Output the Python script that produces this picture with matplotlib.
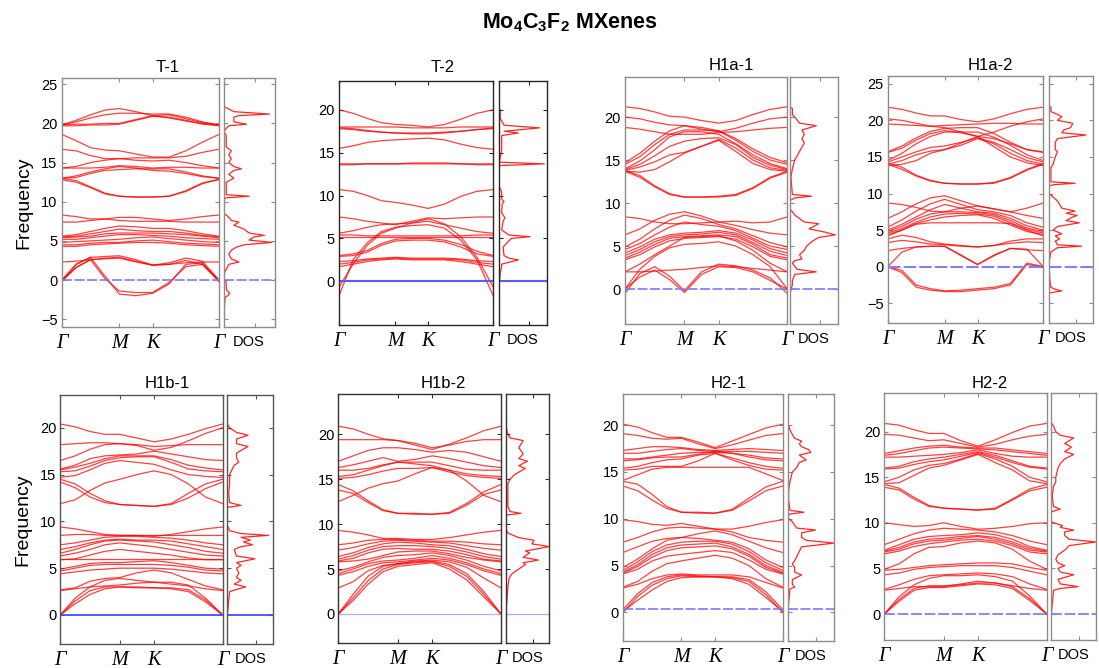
import matplotlib
matplotlib.use('Agg')
import matplotlib.pyplot as plt
from matplotlib.transforms import offset_copy

plt.rcParams['font.family'] = ['Liberation Sans', 'DejaVu Sans']
plt.rcParams['mathtext.fontset'] = 'custom'
plt.rcParams['mathtext.rm'] = 'Liberation Sans'
plt.rcParams['mathtext.bf'] = 'Liberation Sans:bold'

# ---------------- data ----------------
KPATH = [0.0, 0.1443, 0.2887, 0.4330, 0.5774, 0.7440, 0.9107, 1.0774, 1.2440, 1.4107, 1.5774]
HSYM_POS = [0.0, 0.5774, 0.9107, 1.5774]
HSYM_LABELS = ['Γ', 'M', 'K', 'Γ']
PANEL_TITLES = ['T-1', 'T-2', 'H1a-1', 'H1a-2', 'H1b-1', 'H1b-2', 'H2-1', 'H2-2']

T1_BANDS = [
    [19.8, 20.4, 21.1, 21.7, 21.9, 21.5, 21.0, 20.7, 20.3, 20.0, 19.8],
    [19.8, 20.2, 20.7, 21.1, 21.3, 21.3, 21.2, 21.2, 20.8, 20.2, 19.8],
    [19.8, 19.9, 19.9, 20.0, 20.0, 20.5, 21.0, 21.1, 20.6, 20.1, 19.8],
    [19.7, 19.7, 19.8, 19.8, 19.9, 20.4, 20.9, 20.8, 20.4, 19.9, 19.7],
    [18.6, 17.8, 16.9, 16.6, 16.5, 16.1, 15.7, 15.7, 16.5, 17.6, 18.6],
    [16.7, 16.5, 15.9, 15.5, 15.5, 15.6, 15.6, 15.6, 15.8, 16.3, 16.7],
    [14.3, 14.3, 14.3, 14.4, 14.6, 14.5, 14.3, 14.4, 14.4, 14.3, 14.3],
    [14.3, 14.5, 15.0, 15.3, 15.5, 15.3, 15.2, 15.3, 15.0, 14.6, 14.3],
    [13.0, 13.1, 13.6, 14.0, 14.1, 14.2, 14.2, 14.2, 13.8, 13.3, 13.0],
    [13.0, 13.3, 13.8, 14.2, 14.5, 14.3, 14.0, 13.9, 13.6, 13.2, 13.0],
    [13.0, 12.7, 11.9, 11.1, 10.7, 10.6, 10.6, 10.7, 11.3, 12.3, 12.9],
    [12.8, 12.5, 11.8, 11.0, 10.7, 10.6, 10.6, 10.7, 11.4, 12.4, 12.8],
    [8.3, 8.1, 7.8, 7.8, 8.0, 8.0, 7.8, 7.6, 7.8, 8.1, 8.3],
    [7.4, 7.4, 7.6, 7.8, 7.6, 7.5, 7.5, 7.5, 7.4, 7.4, 7.4],
    [5.6, 5.8, 6.2, 6.6, 6.9, 6.8, 6.6, 6.6, 6.3, 5.9, 5.6],
    [5.5, 5.6, 5.9, 6.2, 6.5, 6.3, 6.2, 6.2, 6.0, 5.7, 5.5],
    [5.4, 5.5, 5.6, 5.9, 6.0, 6.0, 6.0, 5.9, 5.8, 5.6, 5.4],
    [5.2, 5.2, 5.4, 5.6, 5.8, 5.8, 5.7, 5.6, 5.4, 5.3, 5.2],
    [4.8, 4.9, 5.0, 5.1, 5.2, 5.4, 5.5, 5.3, 5.1, 4.9, 4.8],
    [4.5, 4.5, 4.7, 4.8, 4.8, 5.0, 5.1, 4.9, 4.7, 4.6, 4.5],
    [4.3, 4.3, 4.5, 4.6, 4.7, 4.8, 4.8, 4.7, 4.5, 4.4, 4.3],
    [2.3, 2.4, 2.6, 2.8, 2.9, 2.4, 1.9, 2.0, 2.2, 2.3, 2.3],
    [0.0, 2.0, 2.9, 3.0, 3.1, 2.6, 1.9, 2.2, 2.8, 2.4, 0.0],
    [0.0, 1.6, 2.6, 2.7, 2.8, 2.3, 1.9, 2.0, 2.5, 2.0, 0.0],
    [-0.2, 2.0, 2.9, 0.5, -1.8, -2.0, -1.7, -0.5, 2.0, 2.2, -0.2],
    [-0.2, 1.6, 2.6, 0.2, -1.4, -1.6, -1.6, -0.3, 1.7, 2.0, -0.2],
]
T2_BANDS = [
    [20.0, 19.6, 19.0, 18.5, 18.3, 18.2, 18.0, 18.3, 18.9, 19.6, 20.0],
    [18.0, 18.0, 18.0, 18.0, 18.0, 17.9, 17.9, 17.9, 18.0, 18.0, 18.0],
    [17.8, 17.7, 17.5, 17.4, 17.3, 17.3, 17.3, 17.4, 17.5, 17.7, 17.8],
    [17.9, 17.8, 17.6, 17.4, 17.3, 17.2, 17.2, 17.3, 17.5, 17.7, 17.9],
    [15.5, 15.8, 16.2, 16.4, 16.5, 16.6, 16.7, 16.5, 16.0, 15.6, 15.4],
    [13.7, 13.7, 13.7, 13.7, 13.7, 13.8, 13.8, 13.8, 13.7, 13.7, 13.7],
    [13.6, 13.6, 13.7, 13.7, 13.7, 13.7, 13.7, 13.7, 13.7, 13.6, 13.6],
    [10.7, 10.5, 10.0, 9.4, 9.2, 8.9, 8.5, 9.0, 9.9, 10.5, 10.7],
    [7.5, 7.3, 7.0, 6.8, 6.6, 7.0, 7.4, 7.3, 7.4, 7.5, 7.5],
    [5.6, 5.9, 6.3, 6.6, 6.7, 6.8, 7.0, 6.6, 6.2, 5.8, 5.6],
    [5.4, 5.4, 5.3, 5.3, 5.3, 5.3, 5.3, 5.3, 5.3, 5.4, 5.4],
    [5.2, 5.2, 5.2, 5.2, 5.2, 5.2, 5.2, 5.2, 5.2, 5.2, 5.2],
    [3.0, 3.2, 3.6, 4.4, 4.9, 5.0, 5.0, 4.8, 4.3, 3.5, 3.0],
    [2.9, 3.0, 3.4, 4.2, 4.7, 4.8, 4.8, 4.6, 4.0, 3.2, 2.9],
    [2.3, 2.4, 2.6, 2.7, 2.8, 2.7, 2.7, 2.7, 2.6, 2.4, 2.3],
    [2.0, 2.2, 2.5, 2.6, 2.7, 2.6, 2.6, 2.6, 2.5, 2.2, 2.0],
    [1.7, 2.0, 2.3, 2.5, 2.6, 2.5, 2.5, 2.5, 2.3, 2.0, 1.7],
    [-1.7, 2.5, 4.5, 5.8, 6.3, 6.5, 6.6, 6.2, 4.8, 2.5, -1.7],
    [-0.7, 2.0, 4.2, 5.6, 6.2, 6.8, 7.3, 6.7, 5.2, 2.8, -0.7],
]
H1A1_BANDS = [
    [21.2, 21.0, 20.6, 20.1, 20.0, 19.6, 19.3, 19.6, 20.3, 20.9, 21.2],
    [20.0, 19.8, 19.4, 19.1, 19.0, 18.6, 18.3, 18.7, 19.3, 19.8, 20.0],
    [18.8, 18.6, 18.3, 18.0, 18.0, 18.0, 18.2, 18.3, 18.5, 18.7, 18.8],
    [14.7, 15.8, 17.2, 18.4, 19.0, 18.8, 18.4, 17.5, 16.3, 15.3, 14.7],
    [14.5, 15.4, 16.8, 18.0, 18.5, 18.5, 18.4, 17.3, 16.0, 15.0, 14.5],
    [14.0, 14.9, 16.2, 17.7, 18.3, 18.3, 18.0, 16.9, 15.6, 14.6, 14.0],
    [13.9, 14.5, 15.5, 16.6, 17.2, 17.5, 17.6, 16.8, 15.3, 14.4, 13.9],
    [13.8, 14.2, 14.8, 15.6, 15.9, 16.6, 17.4, 16.4, 15.0, 14.1, 13.8],
    [13.7, 13.6, 13.9, 14.8, 15.8, 16.6, 17.3, 16.0, 14.6, 13.9, 13.7],
    [13.8, 13.2, 12.0, 11.1, 10.7, 10.7, 10.8, 11.0, 11.8, 13.0, 13.7],
    [13.7, 13.0, 11.9, 11.0, 10.7, 10.7, 10.7, 10.9, 11.7, 12.9, 13.6],
    [8.4, 8.2, 7.8, 7.6, 7.6, 7.7, 7.8, 7.9, 7.7, 7.8, 8.4],
    [6.3, 7.0, 8.0, 8.7, 9.0, 8.5, 7.8, 7.4, 6.9, 6.5, 6.3],
    [4.9, 5.8, 7.0, 8.0, 8.6, 8.2, 7.5, 7.0, 6.2, 5.4, 4.9],
    [4.6, 5.3, 6.3, 7.2, 7.8, 7.5, 7.3, 6.8, 5.9, 5.0, 4.6],
    [4.2, 4.9, 5.8, 6.3, 6.5, 6.6, 6.8, 6.5, 5.7, 4.7, 4.2],
    [3.9, 4.6, 5.5, 6.1, 6.3, 6.4, 6.6, 6.3, 5.4, 4.4, 3.9],
    [3.6, 4.3, 5.2, 5.9, 6.1, 6.2, 6.3, 6.1, 5.2, 4.0, 3.6],
    [3.4, 4.0, 4.9, 5.6, 5.9, 6.0, 6.1, 5.8, 4.9, 3.8, 3.4],
    [2.0, 2.9, 4.0, 5.0, 6.0, 6.1, 6.2, 5.6, 4.5, 3.0, 2.0],
    [0.0, 2.3, 3.8, 4.8, 5.2, 5.3, 5.5, 5.0, 4.0, 2.6, 0.0],
    [2.0, 2.0, 2.1, 2.2, 2.3, 2.5, 2.7, 2.6, 2.4, 2.2, 2.0],
    [-0.5, 1.8, 2.6, 1.5, -0.2, 2.0, 2.9, 2.7, 2.2, 1.3, -0.5],
    [0.0, 1.4, 2.2, 1.1, -0.4, 1.7, 2.6, 2.5, 2.0, 1.0, 0.0],
]
H1A2_BANDS = [
    [21.8, 21.5, 21.0, 20.6, 20.6, 20.1, 19.8, 20.2, 20.9, 21.5, 21.8],
    [20.2, 20.0, 19.6, 19.2, 19.0, 18.4, 17.8, 18.4, 19.2, 19.8, 20.2],
    [19.5, 19.4, 19.3, 19.2, 19.3, 19.4, 19.5, 19.6, 19.6, 19.5, 19.5],
    [15.7, 16.5, 17.6, 18.5, 18.9, 19.0, 19.0, 18.2, 17.0, 16.0, 15.7],
    [15.6, 16.2, 17.3, 18.2, 18.6, 18.3, 17.8, 17.5, 16.8, 16.0, 15.6],
    [14.5, 15.5, 16.8, 17.8, 18.4, 18.4, 18.4, 17.7, 16.6, 15.3, 14.5],
    [14.3, 15.0, 15.7, 16.3, 16.5, 17.0, 17.6, 17.0, 16.0, 14.9, 14.3],
    [14.0, 14.5, 15.3, 15.8, 16.0, 16.6, 17.5, 16.8, 15.5, 14.5, 14.0],
    [13.8, 14.0, 14.5, 15.5, 16.0, 16.9, 17.8, 16.4, 15.0, 14.2, 13.8],
    [14.2, 13.6, 12.5, 11.8, 11.4, 11.3, 11.3, 11.5, 12.2, 13.3, 14.1],
    [14.0, 13.3, 12.4, 11.7, 11.4, 11.3, 11.3, 11.4, 12.1, 13.2, 14.0],
    [8.7, 8.5, 8.1, 7.6, 7.5, 8.0, 8.3, 7.9, 7.5, 8.0, 8.7],
    [6.6, 7.5, 8.6, 9.4, 9.7, 9.0, 8.3, 7.9, 7.5, 7.0, 6.6],
    [5.4, 6.4, 7.6, 8.6, 9.2, 8.5, 7.8, 7.5, 7.0, 6.0, 5.4],
    [5.0, 5.8, 6.8, 7.8, 8.5, 8.0, 7.5, 7.3, 6.6, 5.6, 5.0],
    [4.8, 5.5, 6.5, 7.2, 7.5, 7.5, 7.4, 7.1, 6.3, 5.3, 4.8],
    [4.6, 5.2, 6.1, 6.8, 7.2, 7.3, 7.2, 6.9, 6.0, 5.1, 4.6],
    [4.4, 5.0, 5.9, 6.4, 6.8, 7.0, 7.1, 6.6, 5.7, 4.8, 4.4],
    [4.2, 5.0, 5.8, 6.0, 6.0, 6.0, 6.0, 6.0, 5.9, 5.0, 4.2],
    [3.8, 4.3, 4.0, 3.4, 3.1, 2.9, 2.7, 2.9, 3.5, 3.8, 3.8],
    [3.3, 3.6, 3.4, 3.1, 3.0, 2.8, 2.7, 2.9, 3.2, 3.4, 3.3],
    [2.2, 2.5, 2.7, 2.8, 2.8, 1.5, 0.3, 1.5, 2.5, 2.3, 2.2],
    [0.0, 2.0, 2.7, 2.8, 2.8, 1.6, 0.3, 1.6, 2.5, 2.4, 0.0],
    [0.0, -0.8, -2.8, -3.2, -3.4, -3.4, -3.2, -3.0, -2.5, 0.3, 0.0],
    [0.0, -0.5, -2.5, -3.0, -3.3, -3.2, -3.0, -2.8, -2.3, 0.5, 0.0],
]
H1B1_BANDS = [
    [20.4, 20.1, 19.6, 19.3, 19.3, 18.9, 18.5, 18.8, 19.3, 19.9, 20.4],
    [18.2, 18.3, 18.4, 18.4, 18.3, 18.2, 18.0, 18.1, 18.2, 18.2, 18.2],
    [16.5, 17.0, 17.7, 18.2, 18.3, 18.1, 17.6, 17.9, 18.6, 19.4, 20.0],
    [15.6, 16.0, 16.7, 17.0, 17.1, 17.2, 17.5, 17.2, 16.9, 16.6, 16.5],
    [15.5, 15.8, 16.2, 16.7, 17.0, 17.0, 17.0, 16.6, 16.0, 15.7, 15.5],
    [15.3, 15.4, 15.9, 16.5, 16.8, 16.9, 16.9, 16.3, 15.6, 15.4, 15.3],
    [14.7, 14.9, 15.5, 16.2, 16.5, 16.3, 16.1, 15.5, 15.0, 14.8, 14.7],
    [11.9, 12.3, 13.3, 14.1, 14.5, 15.0, 15.4, 15.0, 14.0, 12.6, 11.9],
    [14.5, 14.0, 13.0, 12.2, 11.8, 11.7, 11.6, 11.9, 13.0, 14.0, 14.5],
    [14.2, 13.6, 12.6, 12.0, 11.8, 11.7, 11.6, 11.8, 12.5, 13.5, 14.2],
    [9.4, 9.2, 8.9, 8.6, 8.5, 8.5, 8.4, 8.6, 8.9, 9.2, 9.4],
    [8.5, 8.6, 8.6, 8.5, 8.5, 8.5, 8.5, 8.5, 8.5, 8.5, 8.5],
    [7.5, 7.7, 8.0, 8.3, 8.4, 8.4, 8.3, 8.2, 8.0, 7.7, 7.5],
    [7.0, 7.3, 7.7, 8.0, 8.1, 8.0, 8.0, 7.9, 7.6, 7.3, 7.0],
    [6.6, 7.0, 7.5, 7.9, 8.0, 7.9, 7.8, 7.5, 7.2, 6.8, 6.6],
    [6.3, 6.6, 7.0, 7.5, 7.7, 7.5, 7.3, 7.0, 6.7, 6.4, 6.3],
    [6.0, 6.0, 6.0, 6.0, 6.0, 6.0, 6.0, 6.0, 6.0, 6.0, 6.0],
    [5.9, 6.0, 6.4, 6.8, 7.0, 6.8, 6.6, 6.4, 6.1, 5.9, 5.9],
    [4.9, 5.2, 5.5, 5.6, 5.6, 5.7, 5.8, 5.6, 5.3, 5.0, 4.9],
    [4.7, 5.0, 5.3, 5.4, 5.4, 5.4, 5.4, 5.3, 5.1, 4.8, 4.7],
    [4.4, 4.6, 4.8, 4.9, 5.0, 5.0, 5.0, 4.9, 4.7, 4.5, 4.4],
    [2.7, 2.9, 3.6, 3.9, 4.0, 4.5, 4.8, 4.5, 3.8, 3.1, 2.7],
    [2.6, 2.8, 3.0, 3.1, 3.2, 3.4, 3.5, 3.3, 3.1, 2.8, 2.6],
    [0.0, 1.8, 3.0, 3.7, 3.9, 3.7, 3.5, 3.5, 3.2, 1.8, 0.0],
    [0.0, 1.5, 2.6, 3.0, 3.0, 2.9, 2.9, 2.9, 2.7, 1.6, 0.0],
    [0.0, 1.2, 2.2, 2.8, 3.0, 3.0, 2.9, 2.8, 2.5, 1.4, 0.0],
]
H1B2_BANDS = [
    [20.9, 20.6, 20.0, 19.5, 19.3, 18.8, 18.3, 18.9, 19.6, 20.4, 20.9],
    [19.4, 19.4, 19.4, 19.4, 19.3, 19.0, 18.5, 18.8, 19.2, 19.4, 19.4],
    [17.0, 17.6, 18.2, 18.5, 18.5, 18.3, 18.0, 18.2, 18.0, 17.5, 17.0],
    [16.3, 16.6, 17.0, 17.4, 17.0, 17.2, 17.6, 17.3, 16.9, 16.5, 16.3],
    [16.0, 16.0, 16.2, 16.6, 16.9, 16.9, 16.9, 16.5, 16.1, 16.0, 16.0],
    [15.3, 15.5, 16.0, 16.5, 16.9, 16.7, 16.5, 16.0, 15.6, 15.4, 15.3],
    [15.1, 15.2, 15.5, 15.9, 16.2, 16.2, 16.3, 15.8, 15.4, 15.2, 15.1],
    [12.5, 13.2, 14.0, 14.5, 14.8, 15.6, 16.3, 16.0, 14.8, 13.2, 12.5],
    [14.4, 13.7, 12.6, 11.6, 11.2, 11.2, 11.1, 11.3, 12.3, 13.6, 14.4],
    [13.8, 13.4, 12.4, 11.5, 11.2, 11.1, 11.1, 11.2, 12.1, 13.3, 13.8],
    [9.3, 9.1, 8.8, 8.4, 8.4, 8.3, 8.3, 8.5, 8.8, 9.1, 9.3],
    [7.7, 7.9, 8.2, 8.3, 8.3, 8.2, 8.1, 8.1, 8.0, 7.8, 7.7],
    [7.1, 7.4, 7.8, 8.1, 8.2, 8.1, 8.0, 7.9, 7.6, 7.3, 7.1],
    [6.4, 6.8, 7.4, 7.8, 8.0, 7.9, 7.7, 7.6, 7.2, 6.7, 6.4],
    [6.1, 6.5, 7.1, 7.5, 7.6, 7.6, 7.5, 7.3, 6.9, 6.4, 6.1],
    [5.9, 6.2, 6.8, 7.2, 7.3, 7.2, 7.2, 7.0, 6.6, 6.1, 5.9],
    [5.8, 5.9, 6.1, 6.5, 6.9, 7.0, 7.0, 6.7, 6.3, 6.0, 5.8],
    [4.8, 5.2, 5.8, 6.3, 6.5, 6.6, 6.8, 6.5, 6.0, 5.3, 4.8],
    [4.5, 5.0, 5.6, 5.9, 6.0, 6.2, 6.5, 6.2, 5.7, 5.0, 4.5],
    [4.3, 4.7, 5.3, 5.7, 5.8, 6.0, 6.2, 6.0, 5.5, 4.8, 4.3],
    [2.9, 3.6, 4.8, 5.4, 5.6, 5.9, 6.0, 5.8, 5.2, 4.0, 2.9],
    [0.0, 2.2, 4.2, 5.3, 5.6, 5.8, 5.9, 5.5, 4.5, 2.5, 0.0],
    [0.0, 1.8, 3.7, 5.0, 5.5, 5.7, 5.8, 5.3, 4.2, 2.2, 0.0],
    [0.0, 1.5, 3.3, 4.7, 5.3, 5.5, 5.7, 5.0, 3.8, 1.9, 0.0],
]
H21_BANDS = [
    [20.1, 19.8, 19.2, 18.7, 18.7, 18.2, 17.6, 18.3, 19.0, 19.7, 20.1],
    [19.1, 18.9, 18.6, 18.5, 18.6, 18.0, 17.5, 17.9, 18.4, 18.9, 19.1],
    [17.3, 17.5, 17.7, 17.7, 17.6, 17.4, 17.3, 17.4, 17.5, 17.4, 17.3],
    [17.0, 17.0, 17.2, 17.4, 17.5, 17.3, 17.2, 17.2, 17.2, 17.1, 17.0],
    [16.4, 16.4, 16.6, 16.8, 17.0, 17.1, 17.1, 17.0, 16.8, 16.5, 16.4],
    [16.2, 16.3, 16.5, 16.6, 16.6, 16.9, 17.2, 17.0, 16.6, 16.3, 16.2],
    [15.4, 15.6, 16.0, 16.3, 16.4, 16.8, 17.0, 16.5, 16.0, 15.6, 15.4],
    [15.2, 15.3, 15.6, 15.6, 15.6, 16.2, 17.0, 16.3, 15.7, 15.3, 15.2],
    [14.1, 14.7, 15.3, 15.5, 15.5, 15.5, 15.5, 15.5, 15.5, 14.8, 14.1],
    [14.0, 13.7, 12.6, 11.3, 10.7, 10.7, 10.6, 11.0, 12.2, 13.4, 14.0],
    [13.5, 13.0, 12.0, 11.1, 10.7, 10.6, 10.6, 10.9, 11.9, 13.0, 13.5],
    [9.9, 9.7, 9.4, 9.3, 9.5, 9.2, 8.9, 8.9, 9.2, 9.6, 9.9],
    [7.5, 8.0, 8.6, 9.0, 9.1, 9.0, 8.9, 8.6, 8.0, 7.7, 7.5],
    [6.4, 7.0, 7.6, 7.9, 8.0, 8.4, 8.7, 8.3, 7.6, 6.9, 6.4],
    [4.8, 5.7, 6.8, 7.7, 8.0, 7.9, 7.7, 7.5, 6.8, 5.6, 4.8],
    [4.5, 5.4, 6.5, 7.2, 7.5, 7.6, 7.6, 7.3, 6.5, 5.3, 4.5],
    [4.3, 5.1, 6.2, 6.9, 7.2, 7.3, 7.4, 7.0, 6.2, 5.0, 4.3],
    [4.2, 4.9, 5.9, 6.6, 6.9, 7.0, 7.1, 6.8, 6.0, 4.8, 4.2],
    [4.1, 4.6, 5.5, 6.0, 6.2, 6.4, 6.6, 6.4, 5.6, 4.6, 4.1],
    [2.7, 3.3, 4.4, 5.2, 5.5, 5.8, 6.1, 5.8, 5.0, 3.6, 2.7],
    [2.6, 3.0, 3.6, 4.0, 4.1, 4.0, 4.0, 4.0, 3.8, 3.2, 2.6],
    [0.3, 2.0, 3.2, 3.8, 4.0, 3.9, 3.8, 3.8, 3.5, 2.2, 0.3],
    [0.0, 1.7, 2.9, 3.6, 3.9, 3.8, 3.8, 3.7, 3.3, 1.9, 0.0],
    [0.1, 1.3, 2.4, 3.3, 3.7, 3.8, 3.8, 3.6, 3.0, 1.6, 0.1],
]
H22_BANDS = [
    [20.9, 20.7, 20.2, 19.8, 19.8, 19.0, 18.4, 19.1, 19.9, 20.6, 20.9],
    [19.7, 19.6, 19.3, 19.0, 19.1, 18.7, 18.3, 18.6, 19.1, 19.5, 19.7],
    [17.6, 17.9, 18.2, 18.4, 18.5, 18.3, 18.2, 18.2, 18.0, 17.8, 17.6],
    [17.4, 17.6, 17.9, 18.2, 18.3, 18.2, 18.1, 18.0, 17.8, 17.6, 17.4],
    [17.2, 17.2, 17.3, 17.4, 17.5, 17.7, 18.0, 17.6, 17.3, 17.2, 17.2],
    [16.0, 16.2, 16.7, 17.0, 17.2, 17.5, 17.8, 17.4, 16.8, 16.2, 16.0],
    [15.9, 16.0, 16.4, 16.7, 16.9, 17.3, 17.7, 17.2, 16.6, 16.1, 15.9],
    [14.5, 15.0, 15.8, 16.3, 16.5, 17.0, 17.6, 17.0, 16.2, 15.0, 14.5],
    [14.3, 14.4, 15.2, 16.0, 16.3, 16.9, 17.5, 16.6, 15.8, 14.6, 14.3],
    [14.2, 13.8, 12.8, 11.9, 11.6, 11.5, 11.4, 11.6, 12.6, 13.7, 14.2],
    [13.9, 13.6, 12.6, 11.8, 11.6, 11.5, 11.4, 11.5, 12.5, 13.5, 13.9],
    [10.0, 9.8, 9.6, 9.7, 10.0, 9.6, 9.3, 9.4, 9.6, 9.9, 10.0],
    [7.6, 8.2, 8.8, 9.2, 9.4, 9.3, 9.2, 9.0, 8.6, 8.0, 7.6],
    [7.0, 7.6, 8.2, 8.5, 8.6, 8.7, 8.9, 8.7, 8.2, 7.4, 7.0],
    [6.9, 7.3, 7.9, 8.2, 8.3, 8.5, 8.6, 8.4, 7.9, 7.2, 6.9],
    [6.8, 7.1, 7.7, 8.0, 8.1, 8.3, 8.5, 8.2, 7.7, 7.0, 6.8],
    [6.6, 6.9, 7.4, 7.7, 7.9, 8.1, 8.2, 8.0, 7.5, 6.8, 6.6],
    [4.9, 5.5, 6.6, 7.3, 7.4, 7.8, 8.0, 7.8, 7.1, 5.8, 4.9],
    [4.8, 4.9, 5.1, 5.3, 5.4, 5.5, 5.6, 5.6, 5.5, 5.1, 4.8],
    [4.3, 4.5, 4.9, 5.1, 5.2, 5.3, 5.3, 5.3, 5.1, 4.7, 4.3],
    [2.7, 3.2, 3.8, 4.2, 4.3, 4.4, 4.5, 4.4, 4.1, 3.3, 2.7],
    [2.6, 2.8, 3.0, 3.0, 3.0, 3.3, 3.6, 3.4, 3.1, 2.8, 2.6],
    [0.0, 1.9, 3.2, 3.9, 4.2, 4.2, 4.3, 4.1, 3.6, 2.0, 0.0],
    [0.0, 1.6, 2.8, 3.1, 3.1, 3.2, 3.4, 3.4, 3.0, 1.7, 0.0],
    [0.0, 1.4, 2.6, 2.9, 2.9, 3.1, 3.3, 3.2, 2.8, 1.5, 0.0],
]

# DOS curves: frequency samples and relative DOS (fraction of panel width)
T1_DOS_F = [-4.5, -2.2, -2.0, -1.7, -1.3, -1.0, -0.3, 0.0, 0.5, 1.0, 2.0, 2.3, 2.7, 3.3, 3.8, 4.2, 4.5, 4.8, 5.1, 5.5, 5.7, 6.0, 6.5, 7.0, 7.4, 7.6, 8.0, 8.3, 8.5, 10.3, 10.5, 10.7, 10.9, 12.5, 13.0, 13.5, 14.0, 14.2, 14.5, 15.0, 15.5, 16.0, 16.5, 17.0, 18.5, 19.0, 19.7, 19.9, 20.2, 20.8, 21.0, 21.2, 21.5, 22.0, 22.2, 24.5]
T1_DOS_V = [0.0, 0.03, 0.08, 0.12, 0.06, 0.05, 0.05, 0.0, 0.0, 0.02, 0.1, 0.3, 0.15, 0.1, 0.15, 0.25, 0.4, 0.95, 0.5, 0.6, 0.8, 0.5, 0.4, 0.2, 0.3, 0.15, 0.1, 0.05, 0.0, 0.0, 0.05, 0.5, 0.05, 0.05, 0.2, 0.1, 0.2, 0.35, 0.2, 0.1, 0.15, 0.1, 0.15, 0.05, 0.05, 0.0, 0.1, 0.45, 0.2, 0.2, 0.3, 0.9, 0.2, 0.05, 0.0, 0.0]
T2_DOS_F = [-0.3, 1.0, 1.7, 2.0, 2.5, 2.7, 3.0, 4.0, 4.7, 5.0, 5.2, 5.4, 6.0, 7.0, 7.4, 8.0, 9.0, 9.3, 9.6, 10.5, 11.0, 13.5, 13.7, 13.9, 15.3, 16.0, 17.0, 17.3, 17.5, 17.9, 18.2, 19.0, 20.0, 20.1]
T2_DOS_V = [0.0, 0.02, 0.05, 0.05, 0.4, 0.2, 0.1, 0.08, 0.2, 0.25, 0.65, 0.2, 0.05, 0.08, 0.12, 0.05, 0.06, 0.1, 0.05, 0.05, 0.0, 0.0, 0.95, 0.0, 0.05, 0.05, 0.05, 0.4, 0.1, 0.85, 0.1, 0.02, 0.02, 0.0]
H1A1_DOS_F = [-0.5, 0.5, 1.0, 1.7, 2.0, 2.3, 3.0, 3.3, 3.5, 4.0, 4.5, 5.0, 5.5, 6.0, 6.3, 6.6, 7.0, 7.3, 7.6, 7.8, 8.2, 8.6, 9.0, 9.3, 10.3, 10.6, 10.8, 11.0, 13.0, 14.0, 15.0, 16.0, 16.5, 17.0, 17.5, 18.0, 18.5, 19.0, 19.3, 20.0, 20.3, 21.0, 21.2]
H1A1_DOS_V = [0.0, 0.05, 0.05, 0.1, 0.55, 0.15, 0.05, 0.1, 0.25, 0.2, 0.3, 0.35, 0.45, 0.6, 0.95, 0.75, 0.4, 0.5, 0.6, 0.3, 0.2, 0.1, 0.05, 0.0, 0.0, 0.1, 0.45, 0.05, 0.02, 0.05, 0.1, 0.2, 0.25, 0.3, 0.25, 0.3, 0.25, 0.55, 0.2, 0.1, 0.05, 0.05, 0.0]
H1A2_DOS_F = [-3.6, -3.3, -3.1, -2.8, -2.0, -1.0, 0.0, 1.0, 2.0, 2.6, 2.8, 3.0, 3.5, 3.8, 4.2, 4.5, 5.0, 5.5, 6.0, 6.3, 6.8, 7.0, 7.3, 7.6, 8.0, 8.5, 9.0, 9.5, 9.8, 10.0, 11.0, 11.2, 11.4, 11.6, 13.5, 14.0, 15.0, 15.7, 16.0, 17.0, 17.5, 18.0, 18.3, 18.7, 19.0, 19.6, 20.0, 20.5, 20.8, 21.2, 21.8, 22.0]
H1A2_DOS_V = [0.0, 0.3, 0.15, 0.05, 0.03, 0.02, 0.0, 0.02, 0.05, 0.2, 0.75, 0.2, 0.15, 0.25, 0.15, 0.3, 0.1, 0.2, 0.7, 0.4, 0.55, 0.65, 0.4, 0.6, 0.3, 0.25, 0.2, 0.1, 0.05, 0.0, 0.0, 0.1, 0.6, 0.05, 0.05, 0.1, 0.15, 0.2, 0.15, 0.15, 0.2, 0.85, 0.3, 0.35, 0.5, 0.55, 0.2, 0.3, 0.2, 0.05, 0.05, 0.0]
H1B1_DOS_F = [0.0, 1.0, 2.5, 2.8, 3.0, 3.3, 3.7, 4.0, 4.5, 5.0, 5.3, 5.6, 6.0, 6.3, 7.0, 7.3, 7.5, 7.8, 8.0, 8.3, 8.5, 8.7, 9.0, 9.4, 9.5, 11.5, 11.7, 12.0, 13.0, 14.0, 15.0, 16.0, 16.3, 16.8, 17.3, 18.0, 18.3, 18.8, 19.2, 19.5, 20.0, 20.4]
H1B1_DOS_V = [0.0, 0.02, 0.05, 0.25, 0.4, 0.15, 0.3, 0.2, 0.25, 0.2, 0.3, 0.2, 0.6, 0.2, 0.15, 0.3, 0.55, 0.35, 0.5, 0.3, 0.9, 0.3, 0.05, 0.02, 0.0, 0.0, 0.3, 0.05, 0.03, 0.05, 0.05, 0.15, 0.25, 0.2, 0.2, 0.45, 0.2, 0.2, 0.45, 0.2, 0.05, 0.0]
H1B2_DOS_F = [0.0, 1.0, 3.0, 4.0, 4.5, 5.0, 5.5, 5.7, 6.0, 6.3, 6.8, 7.0, 7.5, 7.8, 8.2, 8.5, 9.0, 9.3, 9.4, 11.0, 11.2, 11.4, 12.0, 13.0, 14.0, 14.5, 15.0, 15.5, 16.2, 16.5, 17.0, 17.3, 17.8, 18.2, 18.5, 19.3, 19.6, 20.0, 21.0]
H1B2_DOS_V = [0.0, 0.02, 0.05, 0.08, 0.15, 0.3, 0.45, 0.4, 0.75, 0.4, 0.55, 0.45, 1.0, 0.6, 0.65, 0.3, 0.05, 0.02, 0.0, 0.0, 0.35, 0.1, 0.05, 0.05, 0.05, 0.05, 0.1, 0.2, 0.45, 0.3, 0.5, 0.3, 0.4, 0.35, 0.3, 0.4, 0.1, 0.05, 0.0]
H21_DOS_F = [0.5, 1.0, 2.5, 2.7, 3.0, 3.5, 4.0, 4.3, 4.8, 5.2, 5.5, 6.0, 6.5, 7.0, 7.4, 7.7, 8.0, 8.5, 8.8, 9.0, 9.3, 9.7, 10.0, 10.3, 10.5, 10.7, 10.9, 12.0, 13.0, 14.0, 15.0, 15.5, 16.0, 16.3, 16.8, 17.1, 17.4, 17.7, 18.0, 18.3, 18.6, 19.0, 19.5, 20.0, 20.2]
H21_DOS_V = [0.0, 0.02, 0.05, 0.15, 0.1, 0.1, 0.3, 0.15, 0.15, 0.1, 0.15, 0.2, 0.25, 0.3, 1.0, 0.4, 0.3, 0.3, 0.6, 0.2, 0.15, 0.1, 0.02, 0.0, 0.05, 0.35, 0.05, 0.02, 0.02, 0.05, 0.1, 0.2, 0.25, 0.4, 0.25, 0.5, 0.45, 0.3, 0.25, 0.3, 0.15, 0.1, 0.05, 0.02, 0.0]
H22_DOS_F = [0.0, 1.0, 2.6, 2.8, 3.0, 3.3, 3.8, 4.3, 4.6, 5.0, 5.3, 5.6, 6.0, 6.5, 7.0, 7.5, 7.9, 8.2, 8.6, 9.0, 9.2, 9.5, 9.7, 10.0, 10.2, 11.2, 11.5, 11.8, 13.0, 14.0, 14.5, 15.0, 16.0, 16.5, 17.0, 17.5, 17.8, 18.3, 18.7, 19.3, 19.6, 20.0, 20.6, 21.0]
H22_DOS_V = [0.0, 0.02, 0.05, 0.2, 0.6, 0.2, 0.15, 0.5, 0.2, 0.15, 0.3, 0.15, 0.1, 0.15, 0.3, 0.4, 1.0, 0.4, 0.3, 0.3, 0.5, 0.2, 0.25, 0.05, 0.0, 0.0, 0.2, 0.05, 0.02, 0.05, 0.1, 0.1, 0.15, 0.2, 0.3, 0.5, 0.3, 0.45, 0.3, 0.5, 0.2, 0.1, 0.05, 0.0]

ALL_BANDS = [T1_BANDS, T2_BANDS, H1A1_BANDS, H1A2_BANDS, H1B1_BANDS, H1B2_BANDS, H21_BANDS, H22_BANDS]
ALL_DOS = [(T1_DOS_F, T1_DOS_V), (T2_DOS_F, T2_DOS_V), (H1A1_DOS_F, H1A1_DOS_V), (H1A2_DOS_F, H1A2_DOS_V),
           (H1B1_DOS_F, H1B1_DOS_V), (H1B2_DOS_F, H1B2_DOS_V), (H21_DOS_F, H21_DOS_V), (H22_DOS_F, H22_DOS_V)]
YTICKS = [[-5, 0, 5, 10, 15, 20, 25], [0, 5, 10, 15, 20], [0, 5, 10, 15, 20], [-5, 0, 5, 10, 15, 20, 25],
          [0, 5, 10, 15, 20], [0, 5, 10, 15, 20], [0, 5, 10, 15, 20], [0, 5, 10, 15, 20]]
YLIMS = [(-6.0, 25.8), (-5.1, 23.4), (-4.1, 24.7), (-7.65, 26.1), (-3.1, 23.5), (-3.2, 24.45), (-3.06, 23.3), (-2.85, 24.2)]
ZERO_LEVEL = [0.0, 0.0, 0.0, 0.0, 0.0, 0.0, 0.4, 0.0]

# ---------------- layout / style ----------------
W, H = 1099, 668
# (band x0, band x1, dos x0, dos x1, y0, y1) in pixels
LAYOUT = [
    (61.7, 219.0, 223.7, 274.5, 78.0, 327.0),
    (339.0, 493.3, 499.3, 546.7, 80.7, 325.0),
    (625.0, 787.3, 790.0, 837.7, 76.7, 324.3),
    (887.7, 1043.3, 1048.7, 1092.5, 75.7, 322.7),
    (60.3, 222.7, 227.3, 273.3, 395.0, 644.0),
    (338.3, 501.0, 505.7, 549.3, 394.3, 642.7),
    (623.0, 782.7, 787.7, 834.0, 394.3, 641.0),
    (884.3, 1046.7, 1051.3, 1096.0, 393.3, 640.0),
]
TITLE_Y = [67, 67, 65, 65, 383, 384, 383, 383]
SPINE_COLORS = ['#8c8c8c', '#262626', '#8c8c8c', '#8c8c8c', '#555555', '#333333', '#8c8c8c', '#8c8c8c']
ZERO_STYLE = [
    dict(color='#7a7aff', ls=(0, (6, 1.5)), lw=1.2),
    dict(color='#5a5aff', ls='-', lw=1.5),
    dict(color='#7a7aff', ls=(0, (6, 1.5)), lw=1.2),
    dict(color='#8080ff', ls=(0, (6, 1.5)), lw=1.5),
    dict(color='#4a4aff', ls='-', lw=1.3),
    dict(color='#b0b0ff', ls='-', lw=0.9),
    dict(color='#7a7aff', ls=(0, (6, 1.5)), lw=1.2),
    dict(color='#8080ff', ls=(0, (6, 1.5)), lw=1.3),
]
LEFT_COL = [0, 4]

fig = plt.figure(figsize=(W / 100, H / 100), dpi=100)


def px_axes(x0, x1, y0, y1):
    return fig.add_axes([x0 / W, 1 - y1 / H, (x1 - x0) / W, (y1 - y0) / H])


for i in range(8):
    bx0, bx1, dx0, dx1, y0, y1 = LAYOUT[i]
    sc = SPINE_COLORS[i]
    ax = px_axes(bx0, bx1, y0, y1)
    axd = px_axes(dx0, dx1, y0, y1)

    for band in ALL_BANDS[i]:
        ax.plot(KPATH, band, color='#ff0000', lw=0.9, alpha=0.75, solid_joinstyle='round')
    ax.axhline(ZERO_LEVEL[i], **ZERO_STYLE[i])
    ax.set_xlim(KPATH[0], KPATH[-1])
    ax.set_ylim(*YLIMS[i])
    ax.set_yticks(YTICKS[i])
    ax.set_xticks(HSYM_POS)
    ax.set_xticklabels(HSYM_LABELS, fontfamily='Liberation Serif', fontstyle='italic', fontsize=14.5)
    ax.tick_params(axis='both', direction='in', length=3, width=0.8, color=sc,
                   top=True, right=True, labelsize=10.5, pad=3)
    ax.tick_params(axis='x', pad=5, labelsize=14.5)
    for s in ax.spines.values():
        s.set_color(sc)
        s.set_linewidth(1.0)

    f, v = ALL_DOS[i]
    axd.plot(v, f, color='#ff0000', lw=0.9, alpha=0.85)
    axd.axhline(ZERO_LEVEL[i], **ZERO_STYLE[i])
    axd.set_xlim(0, 1)
    axd.set_ylim(*YLIMS[i])
    axd.set_yticks(YTICKS[i])
    axd.set_yticklabels([])
    axd.set_xticks([0.62])
    axd.set_xticklabels([])
    axd.tick_params(axis='both', direction='in', length=3, width=0.8, color=sc, top=True, right=True)
    for s in axd.spines.values():
        s.set_color(sc)
        s.set_linewidth(1.0)
    axd.text(0.5, 0, 'DOS', transform=offset_copy(axd.transAxes, fig=fig, y=-15, units='dots'),
             ha='center', va='center', fontsize=10.5)

    fig.text((bx0 + dx1) / 2 / W, 1 - TITLE_Y[i] / H, PANEL_TITLES[i], ha='center', va='center', fontsize=12)

    if i in LEFT_COL:
        ax.set_ylabel('Frequency', fontsize=14, labelpad=6)

fig.text(570 / W, 1 - 23 / H, r'$\mathbf{Mo_4C_3F_2}$ MXenes', ha='center', va='center',
         fontsize=15.5, fontweight='bold')

fig.savefig('out.png', dpi=100)
